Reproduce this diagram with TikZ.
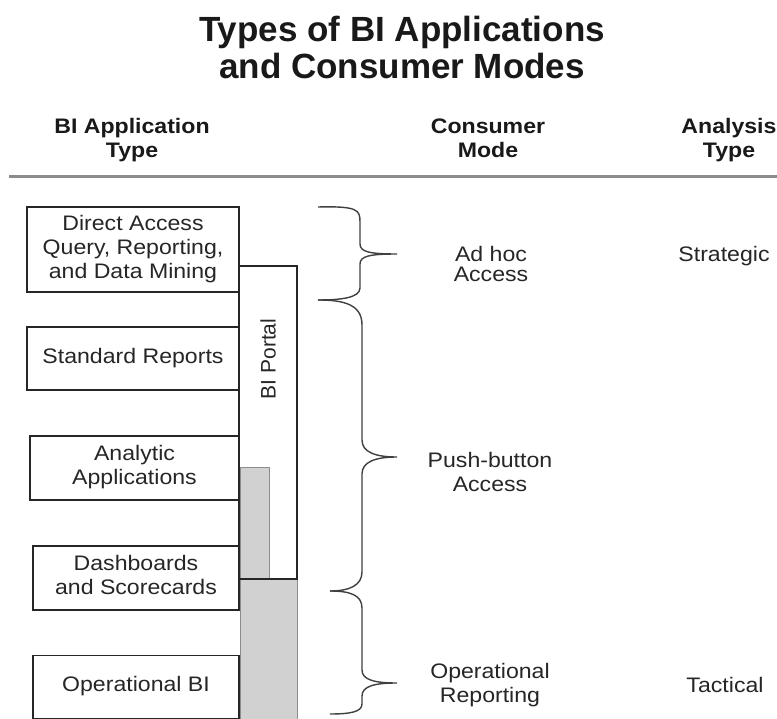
\documentclass[tikz,border=0pt]{standalone}
\usepackage{fontspec}
\setmainfont{Liberation Sans}
\newfontfamily\widefont[FakeStretch=1.1]{Liberation Sans}
\begin{document}
\begin{tikzpicture}[x=1pt,y=-1pt,
  appbox/.style={draw=black!85, line width=1.8pt, minimum width=#1, minimum height=60pt, inner sep=0pt, align=center, font=\bodyfont, text=black!85},
  bodytxt/.style={align=center, font=\bodyfont, text=black!85, inner sep=0pt},
  headtxt/.style={align=center, font=\headfont, text=black!90, inner sep=0pt},
  bracestyle/.style={draw=black!75, line width=1.4pt},
]
\newcommand{\bodyfont}{\widefont\fontsize{21}{24}\selectfont}
\newcommand{\headfont}{\widefont\bfseries\fontsize{21}{24}\selectfont}
\useasboundingbox (0,0) rectangle (777,719);
\fill[white] (0,0) rectangle (777,719);

% title
\node[align=center, inner sep=0pt, font=\bfseries\fontsize{35}{37}\selectfont, text=black!90] (title) at (402,47) {Types of BI Applications\\and Consumer Modes};

% headers
\node[headtxt] (h1) at (132,141.2) {\strut BI Application\\\strut Type};
\node[headtxt] (h2) at (488,141.2) {\strut Consumer\\\strut Mode};
\node[headtxt] (h3) at (729,141.2) {\strut Analysis\\\strut Type};
\coordinate (ruleL) at (9,177);
\coordinate (ruleR) at (777,177);
\draw[line width=3pt, black!45] (ruleL) -- (ruleR);

% gray operational region
\filldraw[fill=black!18, draw=black!45, line width=1pt] (240,467) -- (269,467) -- (269,579) -- (297,579) -- (297,719) -- (240,719) -- cycle;

% BI portal
\draw[draw=black!85, line width=1.8pt] (239,266) rectangle (297,579);
\node[inner sep=0pt, text=black!85, font=\fontsize{21}{24}\selectfont, rotate=90] (portal) at (268,359) {BI Portal};

% application boxes
\node[appbox=212pt, minimum height=85pt] (dam) at (133,249.5) {\strut Direct Access\\\strut Query, Reporting,\\\strut and Data Mining};
\node[appbox=212pt, minimum height=63pt] (std) at (133,358.5) {\strut Standard Reports};
\node[appbox=209pt, minimum height=64pt] (ana) at (134.5,468) {\strut Analytic\\\strut Applications};
\node[appbox=206pt, minimum height=64pt] (dash) at (136,578) {\strut Dashboards\\\strut and Scorecards};
\node[appbox=206pt, minimum height=63pt] (opbi) at (136,687) {\strut Operational BI};

% braces
\draw[bracestyle] (318,207) .. controls (358,206) and (360,210) .. (360,222) -- (360,244)
  .. controls (360,252) and (370,254) .. (397,254)
  .. controls (370,254) and (360,256) .. (360,264) -- (360,288)
  .. controls (360,298) and (340,300) .. (318,300);
\draw[bracestyle] (318,300) .. controls (345,300) and (362,305) .. (362,325) -- (362,440)
  .. controls (362,452) and (375,457) .. (397,457)
  .. controls (375,457) and (362,462) .. (362,474) -- (362,572)
  .. controls (362,585) and (350,591) .. (330,591);
\draw[bracestyle] (330,591) .. controls (350,591) and (362,595) .. (362,608) -- (362,670)
  .. controls (362,680) and (375,683) .. (397,683)
  .. controls (375,683) and (362,686) .. (362,696) -- (362,704)
  .. controls (362,712) and (350,714) .. (330,714);

% consumer modes
\node[bodytxt] (adhoc) at (491,267.2) {\strut Ad hoc\\[-4pt]\strut Access};
\node[bodytxt] (push) at (490,474.2) {\strut Push-button\\\strut Access};
\node[bodytxt] (opr) at (490,685.7) {\strut Operational\\\strut Reporting};

% analysis types
\node[bodytxt, anchor=base] (strat) at (724,262) {Strategic};
\node[bodytxt, anchor=base] (tact) at (725,692) {Tactical};
\end{tikzpicture}
\end{document}
